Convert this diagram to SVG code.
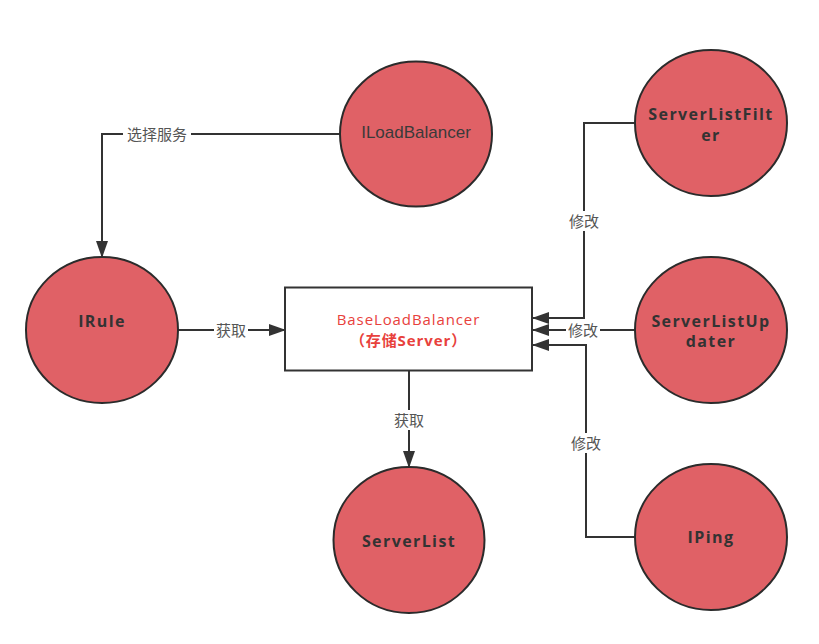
<svg xmlns="http://www.w3.org/2000/svg" width="819" height="644" viewBox="0 0 819 644">
<style>
.node{fill:#e06166;stroke:#2b2b2b;stroke-width:2}
.bold{font-family:"Open Sans","Noto Sans CJK SC",sans-serif;font-weight:bold;font-size:16px;fill:#333;letter-spacing:1.4px;text-anchor:middle}
.reg{font-family:"Liberation Sans",Arial,sans-serif;font-size:17px;fill:#3a3a3a;text-anchor:middle}
.edge{fill:none;stroke:#333;stroke-width:2}
.lbl{font-family:"Noto Sans CJK SC",sans-serif;font-size:15px;fill:#555;text-anchor:middle}
.lblbg{fill:#fff}
.box{fill:#fff;stroke:#333;stroke-width:2}
.boxt{font-family:"Open Sans","Noto Sans CJK SC",sans-serif;font-size:15px;fill:#e8413c;text-anchor:middle;letter-spacing:0.9px}
</style>
<defs>
<marker id="arr" markerUnits="userSpaceOnUse" markerWidth="17" markerHeight="12" refX="16" refY="6" orient="auto">
<path d="M0,0 L17,6 L0,12 Z" fill="#333"/>
</marker>
</defs>
<rect width="819" height="644" fill="#fff"/>
<g id="connectors">
<path class="edge" d="M340,134 H102 V257" marker-end="url(#arr)"/>
<rect class="lblbg" x="123" y="124" width="68" height="20"/>
<text class="lbl" x="157" y="139.5">选择服务</text>
<path class="edge" d="M178,330 H285" marker-end="url(#arr)"/>
<rect class="lblbg" x="214" y="320" width="34" height="20"/>
<text class="lbl" x="231" y="335.5">获取</text>
<path class="edge" d="M409,371 V467" marker-end="url(#arr)"/>
<rect class="lblbg" x="392" y="410" width="34" height="20"/>
<text class="lbl" x="409" y="425.5">获取</text>
<path class="edge" d="M635,123 H584 V318 H533" marker-end="url(#arr)"/>
<rect class="lblbg" x="567" y="211" width="34" height="20"/>
<text class="lbl" x="584" y="226.5">修改</text>
<path class="edge" d="M635,330 H533" marker-end="url(#arr)"/>
<rect class="lblbg" x="566" y="320" width="34" height="20"/>
<text class="lbl" x="583" y="335.5">修改</text>
<path class="edge" d="M637,537 H586 V345 H533" marker-end="url(#arr)"/>
<rect class="lblbg" x="569" y="433" width="34" height="20"/>
<text class="lbl" x="586" y="448.5">修改</text>
</g>
<g id="ILoadBalancer">
<ellipse class="node" cx="416" cy="134" rx="76" ry="72.5"/>
<text class="reg" x="416" y="137.5">ILoadBalancer</text>
</g>
<g id="IRule">
<ellipse class="node" cx="102" cy="330" rx="76" ry="73"/>
<text class="bold" x="102" y="327">IRule</text>
</g>
<g id="BaseLoadBalancer">
<rect class="box" x="285" y="287.5" width="247" height="83"/>
<text class="boxt" x="408.5" y="325">BaseLoadBalancer</text>
<text class="boxt" x="408.5" y="346" font-weight="bold">（存储Server）</text>
</g>
<g id="ServerList">
<ellipse class="node" cx="409" cy="540" rx="75.5" ry="73"/>
<text class="bold" x="409" y="547">ServerList</text>
</g>
<g id="ServerListFilter">
<ellipse class="node" cx="711" cy="123" rx="76" ry="73"/>
<text class="bold" x="711" y="120">ServerListFilt</text>
<text class="bold" x="711" y="141">er</text>
</g>
<g id="ServerListUpdater">
<ellipse class="node" cx="711" cy="330" rx="76" ry="73"/>
<text class="bold" x="711" y="327">ServerListUp</text>
<text class="bold" x="711" y="347">dater</text>
</g>
<g id="IPing">
<ellipse class="node" cx="711" cy="537" rx="76" ry="73"/>
<text class="bold" x="711" y="543">IPing</text>
</g>
</svg>
